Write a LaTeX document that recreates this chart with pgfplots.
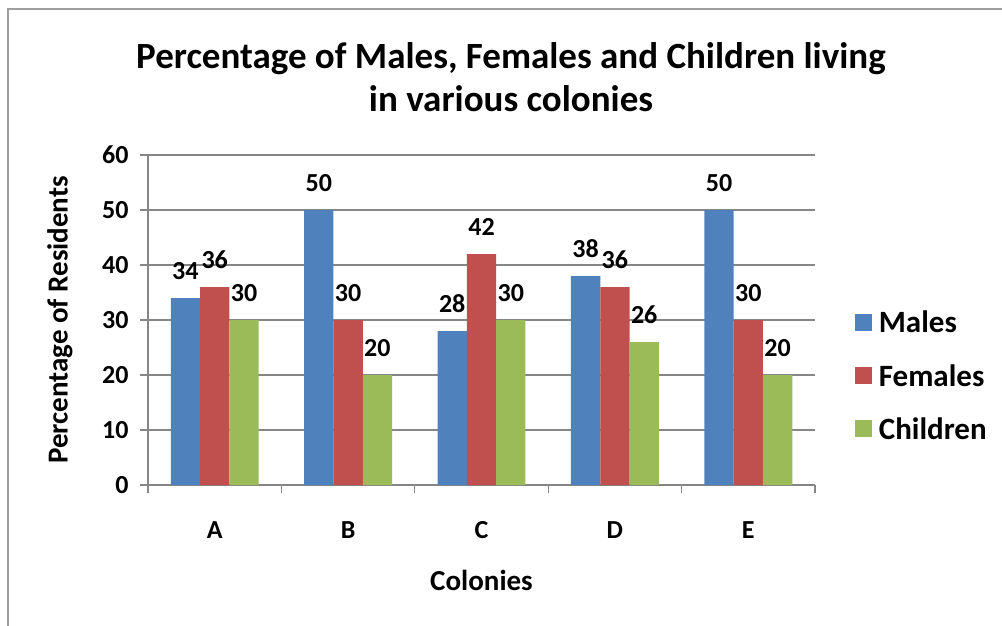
\documentclass[border=0pt]{standalone}
\usepackage{fontspec}
\setmainfont{Carlito}
\usepackage{pgfplots}
\pgfplotsset{compat=1.18}
\definecolor{cm}{HTML}{4F81BD}
\definecolor{cf}{HTML}{C0504D}
\definecolor{cc}{HTML}{9BBB59}
\definecolor{ax}{HTML}{868686}
\begin{document}
\begin{tikzpicture}[x=1pt,y=1pt]
\useasboundingbox (0,0) rectangle (1002,625);
\draw[ax!80, line width=1.5pt] (8,-5) -- (8,616) -- (1010,616);
\node[font=\fontsize{37}{43}\selectfont\bfseries, align=center] at (511,548) {Percentage of Males, Females and Children living\\in various colonies};
\begin{axis}[
  at={(148pt,140pt)}, anchor=south west, scale only axis,
  width=667pt, height=330pt,
  /pgf/number format/assume math mode=true,
  ymin=0, ymax=60, ytick={0,10,...,60},
  xmin=-0.5, xmax=4.5, xtick={0,...,4}, xticklabels={A,B,C,D,E},
  minor xtick={-0.5,0.5,...,4.5},
  axis x line*=bottom, axis y line*=left,
  axis line style={draw=ax, line width=1.5pt},
  ymajorgrids, major grid style={draw=ax, line width=1.3pt},
  tick align=outside, major tick length=8pt, minor tick length=8pt,
  tick style={draw=ax, line width=1.3pt},
  major x tick style={draw=none},
  ticklabel style={font=\fontsize{26}{30}\selectfont\bfseries},
  xticklabel style={yshift=-25pt},
  yticklabel style={xshift=-8pt},
  ybar=0pt, bar width=29.3pt,
  nodes near coords,
  every node near coord/.append style={font=\fontsize{26}{30}\selectfont\bfseries, anchor=south, yshift=15pt},
  xlabel={Colonies}, ylabel={Percentage of Residents},
  label style={font=\fontsize{29}{34}\selectfont\bfseries},
  xlabel style={at={(axis description cs:0.5,-0.288)}, anchor=center},
  ylabel style={at={(axis description cs:-0.132,0.5)}, anchor=center, rotate=0},
  legend style={at={(axis description cs:1.055,0.33)}, anchor=west, draw=none,
    font=\fontsize{31}{36}\selectfont\bfseries, row sep=26pt,
    legend cell align=left},
  legend image code/.code={\fill[#1] (0pt,-8pt) rectangle (17pt,9pt);},
  legend style={nodes={inner xsep=7pt}},
]
\addplot[fill=cm, draw=none] coordinates {(0,34) (1,50) (2,28) (3,38) (4,50)};
\addplot[fill=cf, draw=none] coordinates {(0,36) (1,30) (2,42) (3,36) (4,30)};
\addplot[fill=cc, draw=none] coordinates {(0,30) (1,20) (2,30) (3,26) (4,20)};
\legend{Males,Females,Children}
\end{axis}
\end{tikzpicture}
\end{document}
